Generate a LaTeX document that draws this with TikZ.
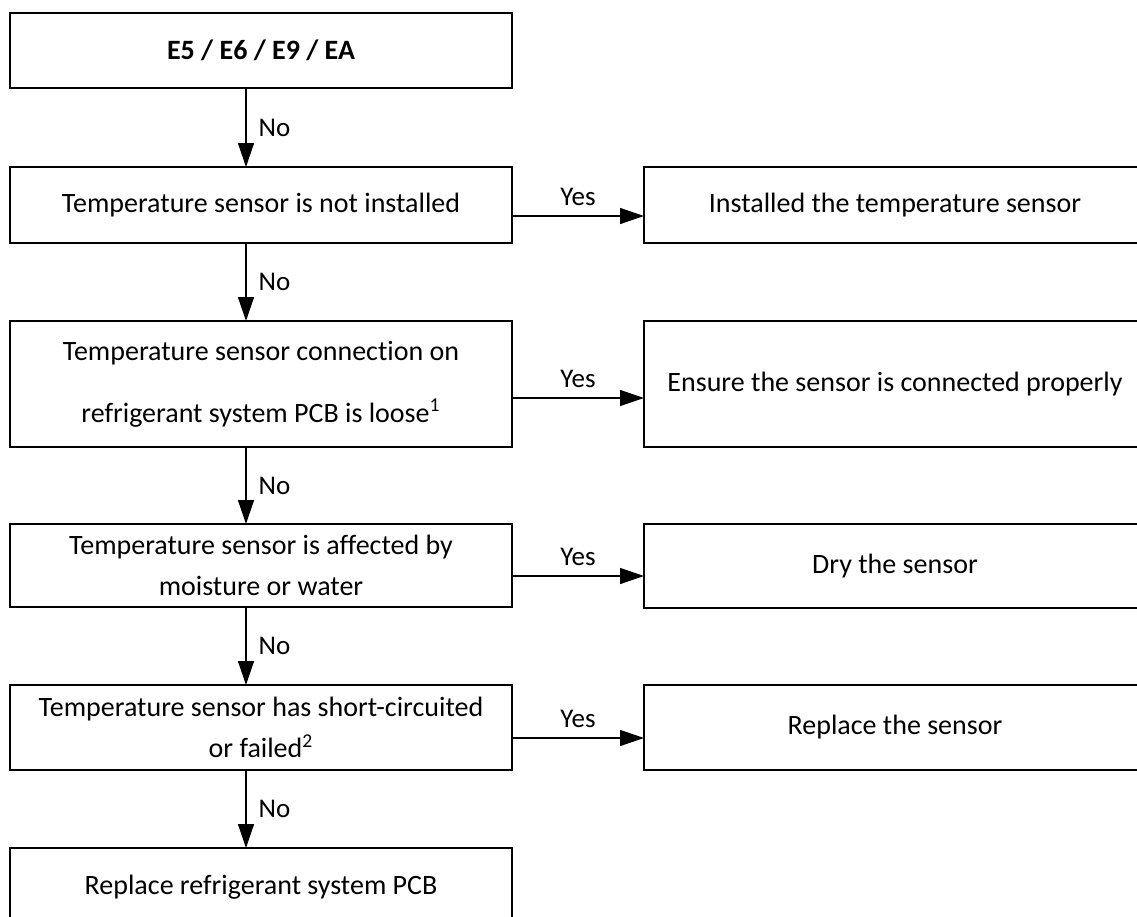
\documentclass[tikz,border=0pt]{standalone}
\usepackage{fontspec}
\setmainfont{Carlito}[Ligatures=NoCommon]
\usetikzlibrary{arrows.meta}

\tikzset{
  box/.style={draw, line width=0.8pt, minimum width=251pt, inner sep=0pt, outer sep=0pt,
    align=center, font=\fontsize{14}{20.5}\selectfont},
  flow/.style={line width=0.7pt, -{Triangle[length=12pt,width=8pt]}},
  lab/.style={inner sep=0pt, font=\fontsize{13.5}{15}\selectfont}
}

\begin{document}
\begin{tikzpicture}[x=0.5pt,y=-0.5pt]
    \clip (0,0) rectangle (1137,917);
    % 左列判断框
    \node[box,minimum height=37.5pt] (b0) at (261,50.5) {\textbf{E5 / E6 / E9 / EA}};
    \node[box,minimum height=38pt] (b1) at (261,205) {Temperature sensor is not installed};
    \node[box,minimum height=63pt] (b2) at (261,384) {Temperature sensor connection on\\[10.5pt] refrigerant system PCB is loose\textsuperscript{1}};
    \node[box,minimum height=41.5pt] (b3) at (261,565.5) {Temperature sensor is affected by\\ moisture or water};
    \node[box,minimum height=42.5pt] (b4) at (261,727.5) {Temperature sensor has short-circuited\\ or failed\textsuperscript{2}};
    \node[box,minimum height=39pt] (b5) at (261,887) {Replace refrigerant system PCB};

    % 右列处理框
    \node[box,minimum height=38pt] (r1) at (895,205) {Installed the temperature sensor};
    \node[box,minimum height=63pt] (r2) at (895,384) {Ensure the sensor is connected properly};
    \node[box,minimum height=42pt] (r3) at (895,566) {Dry the sensor};
    \node[box,minimum height=42.5pt] (r4) at (895,727.5) {Replace the sensor};

    % No
    \draw[flow] ([xshift=-7.5pt]b0.south) -- ([xshift=-7.5pt]b1.north) node[lab,midway,right=6pt] {No};
    \draw[flow] ([xshift=-7.5pt]b1.south) -- ([xshift=-7.5pt]b2.north) node[lab,midway,right=6pt] {No};
    \draw[flow] ([xshift=-7.5pt]b2.south) -- ([xshift=-7.5pt]b3.north) node[lab,midway,right=6pt] {No};
    \draw[flow] ([xshift=-7.5pt]b3.south) -- ([xshift=-7.5pt]b4.north) node[lab,midway,right=6pt] {No};
    \draw[flow] ([xshift=-7.5pt]b4.south) -- ([xshift=-7.5pt]b5.north) node[lab,midway,right=6pt] {No};

    % Yes
    \draw[flow] ([yshift=-5.5pt]b1.east) -- ([yshift=-5.5pt]r1.west) node[lab,midway,above=5pt] {Yes};
    \draw[flow] ([yshift=-7pt]b2.east) -- ([yshift=-7pt]r2.west) node[lab,midway,above=5pt] {Yes};
    \draw[flow] ([yshift=-5.25pt]b3.east) -- ([yshift=-5.25pt]b3.east -| r3.west) node[lab,midway,above=5pt] {Yes};
    \draw[flow] ([yshift=-5.25pt]b4.east) -- ([yshift=-5.25pt]r4.west) node[lab,midway,above=5pt] {Yes};
\end{tikzpicture}
\end{document}
